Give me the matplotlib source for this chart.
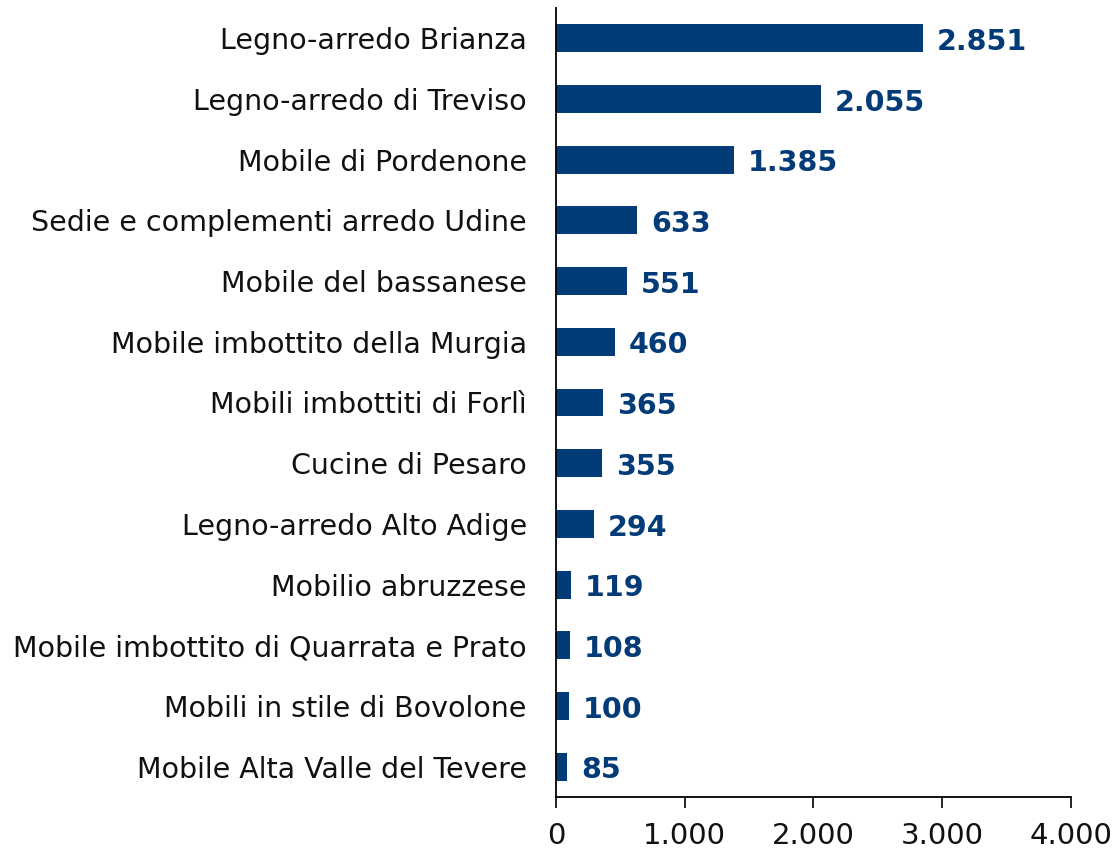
import matplotlib
matplotlib.use('Agg')
import matplotlib.pyplot as plt
from matplotlib.ticker import FuncFormatter

categories = ['Legno-arredo Brianza', 'Legno-arredo di Treviso', 'Mobile di Pordenone',
              'Sedie e complementi arredo Udine', 'Mobile del bassanese',
              'Mobile imbottito della Murgia', 'Mobili imbottiti di Forlì',
              'Cucine di Pesaro', 'Legno-arredo Alto Adige', 'Mobilio abruzzese',
              'Mobile imbottito di Quarrata e Prato', 'Mobili in stile di Bovolone',
              'Mobile Alta Valle del Tevere']
values = [2851, 2055, 1385, 633, 551, 460, 365, 355, 294, 119, 108, 100, 85]
xticks = [0, 1000, 2000, 3000, 4000]

bar_color = '#023B78'
plt.rcParams['font.family'] = ['DejaVu Sans']

fig = plt.figure(figsize=(11.14, 8.52), dpi=100)
ax = fig.add_axes([0.4991, 0.0646, 0.4623, 0.926])

ypos = list(range(len(categories)))
ax.barh(ypos, values, height=0.46, color=bar_color)
ax.set_ylim(len(categories) - 0.5, -0.5)
ax.set_xlim(0, 4000)

def fmt(v):
    return f'{int(v):,}'.replace(',', '.')

for y, v in zip(ypos, values):
    ax.annotate(fmt(v), (v, y + 0.06), xytext=(10, 0), textcoords='offset points',
                va='center', ha='left', fontsize=20.5, fontweight='bold', color=bar_color)

ax.set_yticks(ypos)
ax.set_yticklabels(categories, fontsize=20.5, color='#111111')
ax.tick_params(axis='y', length=0, pad=21)
ax.set_xticks(xticks)
ax.xaxis.set_major_formatter(FuncFormatter(lambda v, p: fmt(v)))
ax.tick_params(axis='x', direction='out', length=8, width=1.2, labelsize=21,
               labelcolor='#111111', pad=10)

for s in ['top', 'right']:
    ax.spines[s].set_visible(False)
ax.spines['left'].set_linewidth(1.3)
ax.spines['bottom'].set_linewidth(1.3)

fig.savefig('out.png', dpi=100)
